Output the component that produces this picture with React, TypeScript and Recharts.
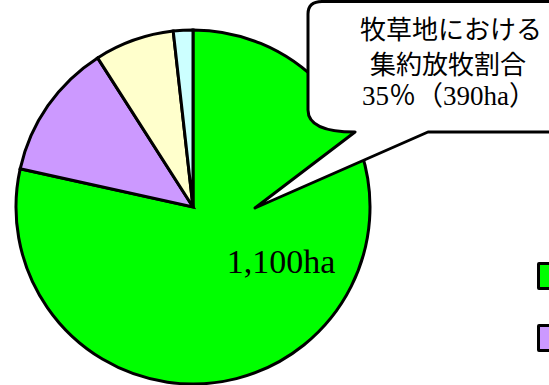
import { PieChart, Pie, Cell, Legend } from "recharts";

const categories = ["牧草地", "野草地", "林地", "その他"];
const areas = [1100, 175, 102, 25];
const colors = ["#00FF00", "#CC99FF", "#FFFFCC", "#CCFFFF"];
const calloutLines = ["牧草地における", "集約放牧割合", "35％（390ha）"];

const data = categories.map((name, i) => ({ name, value: areas[i] }));

const renderLabel = (props: any) => {
    if (props.index !== 0) return null;
    return (
        <text
            x={props.cx + 88}
            y={props.cy + 66}
            textAnchor="middle"
            fontFamily="'Liberation Serif', serif"
            fontSize={34}
            fill="#000"
        >
            1,100ha
        </text>
    );
};

// legend sits at the right edge; only the swatches are in view
const renderLegend = () => (
    <div>
        {data.map((d, i) => (
            <div key={d.name} style={{ display: "flex", alignItems: "center", height: 62 }}>
                <div
                    style={{
                        width: 22,
                        height: 22,
                        flex: "none",
                        background: colors[i],
                        border: "3px solid #000",
                        borderRadius: 2,
                        marginRight: 12,
                    }}
                />
                <span style={{ fontFamily: "'Noto Sans CJK JP'", fontSize: 24 }}>{d.name}</span>
            </div>
        ))}
    </div>
);

export default function App() {
    return (
        <div style={{ position: "fixed", left: 0, top: 0, width: 549, height: 385, overflow: "hidden", background: "#fff" }}>
            <PieChart width={549} height={385} margin={{ top: 0, right: 0, bottom: 0, left: 0 }}>
                <Pie
                    data={data}
                    dataKey="value"
                    nameKey="name"
                    cx={193}
                    cy={207}
                    outerRadius={177}
                    startAngle={90}
                    endAngle={-270}
                    stroke="#000"
                    strokeWidth={3}
                    label={renderLabel}
                    labelLine={false}
                    isAnimationActive={false}
                >
                    {data.map((d, i) => (
                        <Cell key={d.name} fill={colors[i]} />
                    ))}
                </Pie>
                <Legend
                    content={renderLegend}
                    layout="vertical"
                    wrapperStyle={{ position: "absolute", left: 537, top: 245, width: 200 }}
                />
            </PieChart>
            <svg width={549} height={385} style={{ position: "absolute", left: 0, top: 0 }}>
                <path
                    d="M 255 208 L 355 132 Q 308 132 308 110 L 308 14 Q 308 1.5 322 1.5 L 560 1.5 L 560 132 L 428 132 Z"
                    fill="#fff"
                    stroke="#000"
                    strokeWidth={3}
                    strokeLinejoin="round"
                />
                <text x={451} y={27} textAnchor="middle" dominantBaseline="central" fontFamily="'Noto Sans CJK JP'" fontSize={26}>
                    {calloutLines[0]}
                </text>
                <text x={448} y={62} textAnchor="middle" dominantBaseline="central" fontFamily="'Noto Sans CJK JP'" fontSize={26}>
                    {calloutLines[1]}
                </text>
                <text x={449} y={105} textAnchor="middle" fontFamily="'Liberation Serif', 'Noto Sans CJK JP'" fontSize={27}>
                    {calloutLines[2]}
                </text>
            </svg>
        </div>
    );
}
